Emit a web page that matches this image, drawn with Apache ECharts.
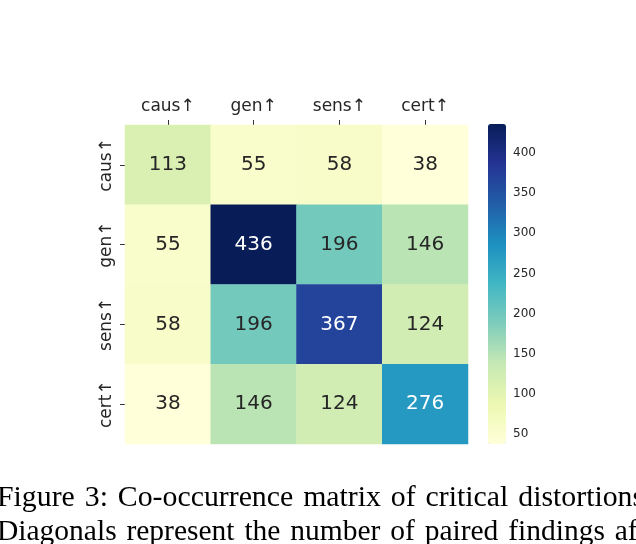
<!DOCTYPE html>
<html>
<head>
<meta charset="utf-8">
<script src="https://cdn.jsdelivr.net/npm/echarts@6/dist/echarts.min.js"></script>
<style>
  html, body { margin: 0; padding: 0; background: #fff; }
  #chart { width: 636px; height: 544px; }
</style>
</head>
<body>
<div id="chart"></div>
<script>
// categories (same on both axes)
var labels = ['caus↑', 'gen↑', 'sens↑', 'cert↑'];

// co-occurrence counts, one row per label
var rowCaus = [113, 55, 58, 38];
var rowGen = [55, 436, 196, 146];
var rowSens = [58, 196, 367, 124];
var rowCert = [38, 146, 124, 276];
var rows = [rowCaus, rowGen, rowSens, rowCert];

// colorbar
var cbarMin = 38;
var cbarMax = 436;
var cbarTicks = [50, 100, 150, 200, 250, 300, 350, 400];

var caption1 = 'Figure 3: Co-occurrence matrix of critical distortions.';
var caption2 = 'Diagonals represent the number of paired findings after';

// YlGnBu
var ylgnbu = ['#ffffd9', '#edf8b1', '#c7e9b4', '#7fcdbb', '#41b6c4',
              '#1d91c0', '#225ea8', '#253494', '#081d58'];

var cells = [];
rows.forEach(function (row, i) {
  row.forEach(function (v, j) {
    cells.push({
      value: [j, i, v],
      label: { color: v > 250 ? '#ffffff' : '#262626' }
    });
  });
});

// the caption is justified in the paper: widen the word gaps a little
function justify(s) {
  return s.replace(/ /g, ' \u200A');
}

var chart = echarts.init(document.getElementById('chart'));
chart.setOption({
  backgroundColor: '#fff',
  animation: false,
  grid: [
    { left: 125, top: 125, width: 343, height: 319 },
    { left: 488, top: 124, width: 18, height: 320 }
  ],
  xAxis: [
    {
      gridIndex: 0,
      type: 'category',
      position: 'top',
      data: labels,
      axisLine: { show: false },
      axisTick: { show: true, alignWithLabel: true, length: 5, lineStyle: { color: '#333' } },
      axisLabel: { fontFamily: 'DejaVu Sans', fontSize: 17, color: '#262626', margin: 10 },
      splitLine: { show: false }
    },
    { gridIndex: 1, type: 'value', show: false, min: 0, max: 1 }
  ],
  yAxis: [
    {
      gridIndex: 0,
      type: 'category',
      inverse: true,
      data: labels,
      axisLine: { show: false },
      axisTick: { show: true, alignWithLabel: true, length: 5, lineStyle: { color: '#333' } },
      axisLabel: { fontFamily: 'DejaVu Sans', fontSize: 17, color: '#262626', rotate: 90, margin: 10 },
      splitLine: { show: false }
    },
    {
      gridIndex: 1,
      type: 'value',
      position: 'right',
      min: cbarMin,
      max: cbarMax,
      axisLine: { show: false },
      splitLine: { show: false },
      axisTick: { show: true, length: 4, customValues: cbarTicks, lineStyle: { color: '#333' } },
      axisLabel: { fontFamily: 'DejaVu Sans', fontSize: 12, color: '#262626', margin: 7, customValues: cbarTicks }
    }
  ],
  visualMap: {
    type: 'continuous',
    seriesIndex: 0,
    dimension: 2,
    min: cbarMin,
    max: cbarMax,
    calculable: false,
    hoverLink: false,
    orient: 'vertical',
    left: 488,
    top: 124,
    padding: 0,
    itemWidth: 18,
    itemHeight: 320,
    text: null,
    inRange: { color: ylgnbu }
  },
  series: [{
    type: 'heatmap',
    xAxisIndex: 0,
    yAxisIndex: 0,
    data: cells,
    label: { show: true, fontFamily: 'DejaVu Sans', fontSize: 20 },
    emphasis: { disabled: true }
  }],
  // caption below the figure
  graphic: [
    {
      type: 'text', x: -3, y: 483,
      style: { text: justify(caption1), fontFamily: 'Liberation Serif', fontSize: 29.8, fill: '#000', verticalAlign: 'top' }
    },
    {
      type: 'text', x: -3, y: 517,
      style: { text: justify(caption2), fontFamily: 'Liberation Serif', fontSize: 29.5, fill: '#000', verticalAlign: 'top' }
    }
  ]
});
</script>
</body>
</html>
